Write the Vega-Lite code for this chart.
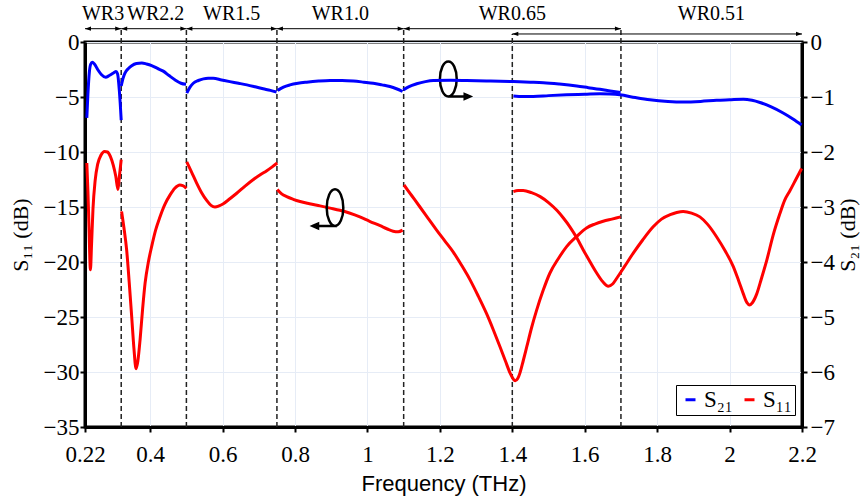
{
  "$schema": "https://vega.github.io/schema/vega-lite/v6.json",
  "width": 717,
  "height": 385,
  "autosize": {"type": "none"},
  "padding": {"left": 85, "top": 42, "right": 61, "bottom": 72},
  "background": "white",
  "config": {
    "view": {"stroke": "#000", "strokeWidth": 3},
    "axis": {
      "domainColor": "#000", "domainWidth": 3,
      "tickColor": "#000", "tickWidth": 2, "tickSize": 5,
      "labelColor": "#000", "titleColor": "#000",
      "labelFont": "Liberation Serif", "labelFontSize": 23,
      "titleFont": "Liberation Serif", "titleFontSize": 22, "titleFontWeight": "normal",
      "gridColor": "#e6ecf6", "gridWidth": 1,
      "labelFlush": false, "labelOverlap": false
    },
    "legend": {
      "orient": "none", "legendX": 591, "legendY": 343,
      "direction": "horizontal",
      "labelFont": "Liberation Serif", "labelFontSize": 23, "labelColor": "#000",
      "symbolType": "stroke", "symbolStrokeWidth": 3, "symbolSize": 100,
      "strokeColor": "#000", "fillColor": "white", "padding": 3,
      "labelOffset": 2, "columnPadding": 5
    }
  },
  "datasets": {
    "s11": [
      {"seg":"a","series":"S₁₁","f":0.225,"db":-11.0},{"seg":"a","series":"S₁₁","f":0.228,"db":-13.5},{"seg":"a","series":"S₁₁","f":0.231,"db":-16.8},{"seg":"a","series":"S₁₁","f":0.235,"db":-20.7},{"seg":"a","series":"S₁₁","f":0.238,"db":-18.5},{"seg":"a","series":"S₁₁","f":0.242,"db":-15.2},{"seg":"a","series":"S₁₁","f":0.248,"db":-12.6},{"seg":"a","series":"S₁₁","f":0.255,"db":-11.1},{"seg":"a","series":"S₁₁","f":0.264,"db":-10.3},{"seg":"a","series":"S₁₁","f":0.274,"db":-9.95},{"seg":"a","series":"S₁₁","f":0.282,"db":-10.0},{"seg":"a","series":"S₁₁","f":0.29,"db":-10.4},{"seg":"a","series":"S₁₁","f":0.298,"db":-11.2},{"seg":"a","series":"S₁₁","f":0.305,"db":-12.2},{"seg":"a","series":"S₁₁","f":0.311,"db":-13.4},{"seg":"a","series":"S₁₁","f":0.315,"db":-12.2},{"seg":"a","series":"S₁₁","f":0.32,"db":-10.7},
      {"seg":"b","series":"S₁₁","f":0.321,"db":-15.4},{"seg":"b","series":"S₁₁","f":0.328,"db":-17.0},{"seg":"b","series":"S₁₁","f":0.335,"db":-18.9},{"seg":"b","series":"S₁₁","f":0.342,"db":-21.8},{"seg":"b","series":"S₁₁","f":0.349,"db":-25.0},{"seg":"b","series":"S₁₁","f":0.355,"db":-27.8},{"seg":"b","series":"S₁₁","f":0.361,"db":-29.7},{"seg":"b","series":"S₁₁","f":0.366,"db":-29.0},{"seg":"b","series":"S₁₁","f":0.372,"db":-27.1},{"seg":"b","series":"S₁₁","f":0.379,"db":-24.3},{"seg":"b","series":"S₁₁","f":0.386,"db":-21.9},{"seg":"b","series":"S₁₁","f":0.395,"db":-20.0},{"seg":"b","series":"S₁₁","f":0.404,"db":-18.6},{"seg":"b","series":"S₁₁","f":0.415,"db":-17.1},{"seg":"b","series":"S₁₁","f":0.427,"db":-15.9},{"seg":"b","series":"S₁₁","f":0.44,"db":-14.8},{"seg":"b","series":"S₁₁","f":0.455,"db":-13.9},{"seg":"b","series":"S₁₁","f":0.468,"db":-13.3},{"seg":"b","series":"S₁₁","f":0.482,"db":-13.0},{"seg":"b","series":"S₁₁","f":0.49,"db":-13.05},{"seg":"b","series":"S₁₁","f":0.5,"db":-13.3},
      {"seg":"c","series":"S₁₁","f":0.501,"db":-10.9},{"seg":"c","series":"S₁₁","f":0.514,"db":-11.8},{"seg":"c","series":"S₁₁","f":0.528,"db":-12.8},{"seg":"c","series":"S₁₁","f":0.542,"db":-13.7},{"seg":"c","series":"S₁₁","f":0.556,"db":-14.4},{"seg":"c","series":"S₁₁","f":0.568,"db":-14.85},{"seg":"c","series":"S₁₁","f":0.579,"db":-15.0},{"seg":"c","series":"S₁₁","f":0.59,"db":-14.9},{"seg":"c","series":"S₁₁","f":0.602,"db":-14.7},{"seg":"c","series":"S₁₁","f":0.62,"db":-14.25},{"seg":"c","series":"S₁₁","f":0.639,"db":-13.75},{"seg":"c","series":"S₁₁","f":0.662,"db":-13.1},{"seg":"c","series":"S₁₁","f":0.685,"db":-12.5},{"seg":"c","series":"S₁₁","f":0.705,"db":-12.05},{"seg":"c","series":"S₁₁","f":0.722,"db":-11.7},{"seg":"c","series":"S₁₁","f":0.737,"db":-11.35},{"seg":"c","series":"S₁₁","f":0.751,"db":-11.0},
      {"seg":"d","series":"S₁₁","f":0.751,"db":-13.4},{"seg":"d","series":"S₁₁","f":0.763,"db":-13.8},{"seg":"d","series":"S₁₁","f":0.777,"db":-14.06},{"seg":"d","series":"S₁₁","f":0.795,"db":-14.3},{"seg":"d","series":"S₁₁","f":0.814,"db":-14.5},{"seg":"d","series":"S₁₁","f":0.84,"db":-14.7},{"seg":"d","series":"S₁₁","f":0.869,"db":-14.9},{"seg":"d","series":"S₁₁","f":0.897,"db":-15.1},{"seg":"d","series":"S₁₁","f":0.924,"db":-15.3},{"seg":"d","series":"S₁₁","f":0.95,"db":-15.55},{"seg":"d","series":"S₁₁","f":0.979,"db":-15.9},{"seg":"d","series":"S₁₁","f":1.006,"db":-16.3},{"seg":"d","series":"S₁₁","f":1.035,"db":-16.7},{"seg":"d","series":"S₁₁","f":1.055,"db":-17.0},{"seg":"d","series":"S₁₁","f":1.071,"db":-17.2},{"seg":"d","series":"S₁₁","f":1.085,"db":-17.25},{"seg":"d","series":"S₁₁","f":1.097,"db":-17.1},
      {"seg":"e","series":"S₁₁","f":1.101,"db":-13.0},{"seg":"e","series":"S₁₁","f":1.123,"db":-14.0},{"seg":"e","series":"S₁₁","f":1.145,"db":-15.0},{"seg":"e","series":"S₁₁","f":1.168,"db":-16.05},{"seg":"e","series":"S₁₁","f":1.191,"db":-17.1},{"seg":"e","series":"S₁₁","f":1.214,"db":-18.1},{"seg":"e","series":"S₁₁","f":1.237,"db":-19.1},{"seg":"e","series":"S₁₁","f":1.26,"db":-20.3},{"seg":"e","series":"S₁₁","f":1.283,"db":-21.6},{"seg":"e","series":"S₁₁","f":1.306,"db":-23.1},{"seg":"e","series":"S₁₁","f":1.329,"db":-24.7},{"seg":"e","series":"S₁₁","f":1.348,"db":-26.2},{"seg":"e","series":"S₁₁","f":1.366,"db":-27.7},{"seg":"e","series":"S₁₁","f":1.381,"db":-29.0},{"seg":"e","series":"S₁₁","f":1.394,"db":-30.1},{"seg":"e","series":"S₁₁","f":1.402,"db":-30.6},{"seg":"e","series":"S₁₁","f":1.408,"db":-30.8},{"seg":"e","series":"S₁₁","f":1.415,"db":-30.6},{"seg":"e","series":"S₁₁","f":1.421,"db":-30.1},{"seg":"e","series":"S₁₁","f":1.43,"db":-29.0},{"seg":"e","series":"S₁₁","f":1.44,"db":-27.7},{"seg":"e","series":"S₁₁","f":1.453,"db":-26.0},{"seg":"e","series":"S₁₁","f":1.467,"db":-24.4},{"seg":"e","series":"S₁₁","f":1.485,"db":-22.6},{"seg":"e","series":"S₁₁","f":1.504,"db":-21.0},{"seg":"e","series":"S₁₁","f":1.527,"db":-19.7},{"seg":"e","series":"S₁₁","f":1.55,"db":-18.6},{"seg":"e","series":"S₁₁","f":1.577,"db":-17.7},{"seg":"e","series":"S₁₁","f":1.605,"db":-16.9},{"seg":"e","series":"S₁₁","f":1.628,"db":-16.55},{"seg":"e","series":"S₁₁","f":1.651,"db":-16.3},{"seg":"e","series":"S₁₁","f":1.675,"db":-16.1},{"seg":"e","series":"S₁₁","f":1.699,"db":-15.9},
      {"seg":"f","series":"S₁₁","f":1.403,"db":-13.6},{"seg":"f","series":"S₁₁","f":1.416,"db":-13.5},{"seg":"f","series":"S₁₁","f":1.43,"db":-13.5},{"seg":"f","series":"S₁₁","f":1.453,"db":-13.7},{"seg":"f","series":"S₁₁","f":1.477,"db":-14.06},{"seg":"f","series":"S₁₁","f":1.5,"db":-14.6},{"seg":"f","series":"S₁₁","f":1.523,"db":-15.3},{"seg":"f","series":"S₁₁","f":1.541,"db":-16.0},{"seg":"f","series":"S₁₁","f":1.559,"db":-16.8},{"seg":"f","series":"S₁₁","f":1.578,"db":-17.8},{"seg":"f","series":"S₁₁","f":1.596,"db":-18.9},{"seg":"f","series":"S₁₁","f":1.615,"db":-20.0},{"seg":"f","series":"S₁₁","f":1.633,"db":-21.0},{"seg":"f","series":"S₁₁","f":1.65,"db":-21.8},{"seg":"f","series":"S₁₁","f":1.665,"db":-22.2},{"seg":"f","series":"S₁₁","f":1.677,"db":-22.0},{"seg":"f","series":"S₁₁","f":1.688,"db":-21.5},{"seg":"f","series":"S₁₁","f":1.71,"db":-20.4},{"seg":"f","series":"S₁₁","f":1.734,"db":-19.2},{"seg":"f","series":"S₁₁","f":1.76,"db":-18.0},{"seg":"f","series":"S₁₁","f":1.789,"db":-16.8},{"seg":"f","series":"S₁₁","f":1.812,"db":-16.1},{"seg":"f","series":"S₁₁","f":1.836,"db":-15.7},{"seg":"f","series":"S₁₁","f":1.854,"db":-15.5},{"seg":"f","series":"S₁₁","f":1.872,"db":-15.4},{"seg":"f","series":"S₁₁","f":1.895,"db":-15.55},{"seg":"f","series":"S₁₁","f":1.918,"db":-15.9},{"seg":"f","series":"S₁₁","f":1.94,"db":-16.6},{"seg":"f","series":"S₁₁","f":1.964,"db":-17.7},{"seg":"f","series":"S₁₁","f":1.988,"db":-19.0},{"seg":"f","series":"S₁₁","f":2.01,"db":-20.4},{"seg":"f","series":"S₁₁","f":2.025,"db":-21.7},{"seg":"f","series":"S₁₁","f":2.038,"db":-22.9},{"seg":"f","series":"S₁₁","f":2.048,"db":-23.7},{"seg":"f","series":"S₁₁","f":2.055,"db":-23.9},{"seg":"f","series":"S₁₁","f":2.063,"db":-23.7},{"seg":"f","series":"S₁₁","f":2.075,"db":-22.9},{"seg":"f","series":"S₁₁","f":2.088,"db":-21.5},{"seg":"f","series":"S₁₁","f":2.103,"db":-19.8},{"seg":"f","series":"S₁₁","f":2.12,"db":-17.6},{"seg":"f","series":"S₁₁","f":2.139,"db":-15.6},{"seg":"f","series":"S₁₁","f":2.152,"db":-14.4},{"seg":"f","series":"S₁₁","f":2.167,"db":-13.5},{"seg":"f","series":"S₁₁","f":2.183,"db":-12.5},{"seg":"f","series":"S₁₁","f":2.199,"db":-11.5}
    ],
    "s21": [
      {"seg":"a","series":"S₂₁","f":0.225,"db":-1.38},{"seg":"a","series":"S₂₁","f":0.228,"db":-0.95},{"seg":"a","series":"S₂₁","f":0.232,"db":-0.55},{"seg":"a","series":"S₂₁","f":0.236,"db":-0.4},{"seg":"a","series":"S₂₁","f":0.24,"db":-0.37},{"seg":"a","series":"S₂₁","f":0.246,"db":-0.4},{"seg":"a","series":"S₂₁","f":0.255,"db":-0.5},{"seg":"a","series":"S₂₁","f":0.265,"db":-0.59},{"seg":"a","series":"S₂₁","f":0.277,"db":-0.64},{"seg":"a","series":"S₂₁","f":0.287,"db":-0.61},{"seg":"a","series":"S₂₁","f":0.297,"db":-0.57},{"seg":"a","series":"S₂₁","f":0.305,"db":-0.535},{"seg":"a","series":"S₂₁","f":0.31,"db":-0.58},{"seg":"a","series":"S₂₁","f":0.315,"db":-0.9},{"seg":"a","series":"S₂₁","f":0.32,"db":-1.42},
      {"seg":"b","series":"S₂₁","f":0.32,"db":-0.8},{"seg":"b","series":"S₂₁","f":0.325,"db":-0.66},{"seg":"b","series":"S₂₁","f":0.33,"db":-0.57},{"seg":"b","series":"S₂₁","f":0.34,"db":-0.48},{"seg":"b","series":"S₂₁","f":0.349,"db":-0.43},{"seg":"b","series":"S₂₁","f":0.362,"db":-0.39},{"seg":"b","series":"S₂₁","f":0.377,"db":-0.38},{"seg":"b","series":"S₂₁","f":0.39,"db":-0.4},{"seg":"b","series":"S₂₁","f":0.404,"db":-0.43},{"seg":"b","series":"S₂₁","f":0.42,"db":-0.48},{"seg":"b","series":"S₂₁","f":0.436,"db":-0.53},{"seg":"b","series":"S₂₁","f":0.452,"db":-0.61},{"seg":"b","series":"S₂₁","f":0.469,"db":-0.69},{"seg":"b","series":"S₂₁","f":0.485,"db":-0.75},{"seg":"b","series":"S₂₁","f":0.499,"db":-0.77},
      {"seg":"c","series":"S₂₁","f":0.501,"db":-0.93},{"seg":"c","series":"S₂₁","f":0.51,"db":-0.82},{"seg":"c","series":"S₂₁","f":0.519,"db":-0.75},{"seg":"c","series":"S₂₁","f":0.533,"db":-0.7},{"seg":"c","series":"S₂₁","f":0.547,"db":-0.67},{"seg":"c","series":"S₂₁","f":0.56,"db":-0.66},{"seg":"c","series":"S₂₁","f":0.574,"db":-0.66},{"seg":"c","series":"S₂₁","f":0.597,"db":-0.69},{"seg":"c","series":"S₂₁","f":0.62,"db":-0.72},{"seg":"c","series":"S₂₁","f":0.644,"db":-0.75},{"seg":"c","series":"S₂₁","f":0.667,"db":-0.78},{"seg":"c","series":"S₂₁","f":0.69,"db":-0.815},{"seg":"c","series":"S₂₁","f":0.712,"db":-0.85},{"seg":"c","series":"S₂₁","f":0.732,"db":-0.88},{"seg":"c","series":"S₂₁","f":0.749,"db":-0.91},
      {"seg":"d","series":"S₂₁","f":0.752,"db":-0.88},{"seg":"d","series":"S₂₁","f":0.768,"db":-0.82},{"seg":"d","series":"S₂₁","f":0.786,"db":-0.78},{"seg":"d","series":"S₂₁","f":0.808,"db":-0.75},{"seg":"d","series":"S₂₁","f":0.832,"db":-0.73},{"seg":"d","series":"S₂₁","f":0.865,"db":-0.71},{"seg":"d","series":"S₂₁","f":0.897,"db":-0.7},{"seg":"d","series":"S₂₁","f":0.93,"db":-0.7},{"seg":"d","series":"S₂₁","f":0.961,"db":-0.71},{"seg":"d","series":"S₂₁","f":0.99,"db":-0.73},{"seg":"d","series":"S₂₁","f":1.016,"db":-0.75},{"seg":"d","series":"S₂₁","f":1.04,"db":-0.78},{"seg":"d","series":"S₂₁","f":1.062,"db":-0.81},{"seg":"d","series":"S₂₁","f":1.08,"db":-0.85},{"seg":"d","series":"S₂₁","f":1.097,"db":-0.9},
      {"seg":"e","series":"S₂₁","f":1.099,"db":-0.87},{"seg":"e","series":"S₂₁","f":1.115,"db":-0.81},{"seg":"e","series":"S₂₁","f":1.136,"db":-0.76},{"seg":"e","series":"S₂₁","f":1.16,"db":-0.72},{"seg":"e","series":"S₂₁","f":1.182,"db":-0.7},{"seg":"e","series":"S₂₁","f":1.23,"db":-0.695},{"seg":"e","series":"S₂₁","f":1.274,"db":-0.7},{"seg":"e","series":"S₂₁","f":1.34,"db":-0.71},{"seg":"e","series":"S₂₁","f":1.403,"db":-0.72},{"seg":"e","series":"S₂₁","f":1.45,"db":-0.73},{"seg":"e","series":"S₂₁","f":1.486,"db":-0.74},{"seg":"e","series":"S₂₁","f":1.53,"db":-0.765},{"seg":"e","series":"S₂₁","f":1.578,"db":-0.8},{"seg":"e","series":"S₂₁","f":1.61,"db":-0.83},{"seg":"e","series":"S₂₁","f":1.642,"db":-0.86},{"seg":"e","series":"S₂₁","f":1.67,"db":-0.89},{"seg":"e","series":"S₂₁","f":1.699,"db":-0.92},
      {"seg":"f","series":"S₂₁","f":1.403,"db":-0.98},{"seg":"f","series":"S₂₁","f":1.43,"db":-0.99},{"seg":"f","series":"S₂₁","f":1.458,"db":-0.99},{"seg":"f","series":"S₂₁","f":1.5,"db":-0.975},{"seg":"f","series":"S₂₁","f":1.55,"db":-0.96},{"seg":"f","series":"S₂₁","f":1.6,"db":-0.95},{"seg":"f","series":"S₂₁","f":1.642,"db":-0.94},{"seg":"f","series":"S₂₁","f":1.67,"db":-0.945},{"seg":"f","series":"S₂₁","f":1.697,"db":-0.96},{"seg":"f","series":"S₂₁","f":1.74,"db":-1.01},{"seg":"f","series":"S₂₁","f":1.78,"db":-1.05},{"seg":"f","series":"S₂₁","f":1.83,"db":-1.08},{"seg":"f","series":"S₂₁","f":1.872,"db":-1.09},{"seg":"f","series":"S₂₁","f":1.92,"db":-1.08},{"seg":"f","series":"S₂₁","f":1.964,"db":-1.06},{"seg":"f","series":"S₂₁","f":2.0,"db":-1.05},{"seg":"f","series":"S₂₁","f":2.038,"db":-1.04},{"seg":"f","series":"S₂₁","f":2.062,"db":-1.06},{"seg":"f","series":"S₂₁","f":2.084,"db":-1.1},{"seg":"f","series":"S₂₁","f":2.115,"db":-1.18},{"seg":"f","series":"S₂₁","f":2.148,"db":-1.29},{"seg":"f","series":"S₂₁","f":2.175,"db":-1.4},{"seg":"f","series":"S₂₁","f":2.199,"db":-1.51}
    ],
    "vlines": [
      {"f":0.32,"db":-35,"top":1.21},{"f":0.5,"db":-35,"top":1.21},{"f":0.75,"db":-35,"top":1.21},{"f":1.1,"db":-35,"top":1.21},{"f":1.4,"db":-35,"top":0.73},{"f":1.7,"db":-35,"top":1.21}
    ],
    "bands": [
      {"f":0.22,"f2":0.32,"db":1.21},{"f":0.32,"f2":0.5,"db":1.21},{"f":0.5,"f2":0.75,"db":1.21},{"f":0.75,"f2":1.1,"db":1.21},{"f":1.1,"f2":1.7,"db":1.21},{"f":1.4,"f2":2.2,"db":0.73}
    ],
    "arrowsL": [
      {"f":0.22,"db":1.21},{"f":0.32,"db":1.21},{"f":0.5,"db":1.21},{"f":0.75,"db":1.21},{"f":1.1,"db":1.21},{"f":1.4,"db":0.73}
    ],
    "arrowsR": [
      {"f":0.32,"db":1.21},{"f":0.5,"db":1.21},{"f":0.75,"db":1.21},{"f":1.1,"db":1.21},{"f":1.7,"db":1.21},{"f":2.2,"db":0.73}
    ],
    "labels": [
      {"f":0.27,"db":2.58,"label":"WR3"},{"f":0.415,"db":2.58,"label":"WR2.2"},{"f":0.625,"db":2.58,"label":"WR1.5"},{"f":0.925,"db":2.58,"label":"WR1.0"},{"f":1.4,"db":2.58,"label":"WR0.65"},{"f":1.95,"db":2.58,"label":"WR0.51"}
    ],
    "icon11": [{"f":0.9104,"db":-15.06}],
    "icon21": [{"f":1.2233,"db":-3.36}]
  },
  "layer": [
    {
      "layer": [
        {
          "data": {"name": "vlines"},
          "mark": {"type": "rule", "color": "#222", "strokeWidth": 1.5, "strokeDash": [5, 3]},
          "encoding": {
            "x": {"field": "f", "type": "quantitative", "scale": {"domain": [0.22, 2.2], "nice": false, "zero": false}},
            "y": {"field": "db", "type": "quantitative", "scale": {"domain": [-35, 0], "nice": false, "zero": false}},
            "y2": {"field": "top"}
          }
        },
        {
          "data": {"name": "s11"},
          "mark": {"type": "line", "strokeWidth": 3, "interpolate": "monotone"},
          "encoding": {
            "x": {"field": "f", "type": "quantitative", "title": "Frequency (THz)",
              "scale": {"domain": [0.22, 2.2], "nice": false, "zero": false},
              "axis": {"values": [0.22, 0.4, 0.6, 0.8, 1, 1.2, 1.4, 1.6, 1.8, 2, 2.2], "format": ".2~f", "grid": true,
                "labelPadding": 11, "titleFont": "Liberation Sans", "titleFontSize": 22, "titlePadding": 7}},
            "y": {"field": "db", "type": "quantitative", "title": "S₁₁ (dB)",
              "scale": {"domain": [-35, 0], "nice": false, "zero": false},
              "axis": {"orient": "left", "values": [-35, -30, -25, -20, -15, -10, -5, 0], "grid": true, "labelPadding": 1, "titlePadding": 11}},
            "detail": {"field": "seg"},
            "color": {"field": "series", "type": "nominal", "title": null,
              "scale": {"domain": ["S₂₁", "S₁₁"], "range": ["#0000ff", "#ff0000"]}}
          }
        },
        {
          "data": {"name": "bands"},
          "mark": {"type": "rule", "color": "#000", "strokeWidth": 1},
          "encoding": {
            "x": {"field": "f", "type": "quantitative"},
            "x2": {"field": "f2"},
            "y": {"field": "db", "type": "quantitative"}
          }
        },
        {
          "data": {"name": "arrowsR"},
          "mark": {"type": "point", "shape": "M0,0 L-2,-0.7 L-2,0.7 Z", "filled": true, "color": "#000", "size": 36, "opacity": 1},
          "encoding": {
            "x": {"field": "f", "type": "quantitative"},
            "y": {"field": "db", "type": "quantitative"}
          }
        },
        {
          "data": {"name": "arrowsL"},
          "mark": {"type": "point", "shape": "M0,0 L2,-0.7 L2,0.7 Z", "filled": true, "color": "#000", "size": 36, "opacity": 1},
          "encoding": {
            "x": {"field": "f", "type": "quantitative"},
            "y": {"field": "db", "type": "quantitative"}
          }
        },
        {
          "data": {"name": "labels"},
          "mark": {"type": "text", "font": "Liberation Serif", "fontSize": 20, "color": "#000", "baseline": "middle", "align": "center"},
          "encoding": {
            "x": {"field": "f", "type": "quantitative"},
            "y": {"field": "db", "type": "quantitative"},
            "text": {"field": "label"}
          }
        },
        {
          "data": {"name": "icon11"},
          "mark": {"type": "point", "shape": "M0,-0.915 C0.229,-0.915 0.415,-0.505 0.415,0 C0.415,0.505 0.229,0.915 0,0.915 C-0.229,0.915 -0.415,0.505 -0.415,0 C-0.415,-0.505 -0.229,-0.915 0,-0.915 Z M0.1,0.915 L-1.115,0.915 M-1.115,0.915 L-0.85,0.8 L-0.85,1.03 Z", "filled": false, "color": "#000", "strokeWidth": 2.5, "size": 1600, "opacity": 1},
          "encoding": {
            "x": {"field": "f", "type": "quantitative"},
            "y": {"field": "db", "type": "quantitative"}
          }
        },
        {
          "data": {"name": "icon21"},
          "mark": {"type": "point", "shape": "M0,-0.875 C0.232,-0.875 0.42,-0.483 0.42,0 C0.42,0.483 0.232,0.875 0,0.875 C-0.232,0.875 -0.42,0.483 -0.42,0 C-0.42,-0.483 -0.232,-0.875 0,-0.875 Z M0,0.875 L1.085,0.875 M1.085,0.875 L0.82,0.76 L0.82,0.99 Z", "filled": false, "color": "#000", "strokeWidth": 2.5, "size": 1600, "opacity": 1},
          "encoding": {
            "x": {"field": "f", "type": "quantitative"},
            "y": {"field": "db", "type": "quantitative"}
          }
        }
      ]
    },
    {
      "data": {"name": "s21"},
      "mark": {"type": "line", "strokeWidth": 3, "interpolate": "monotone"},
      "encoding": {
        "x": {"field": "f", "type": "quantitative", "scale": {"domain": [0.22, 2.2], "nice": false, "zero": false}},
        "y": {"field": "db", "type": "quantitative", "title": "S₂₁ (dB)",
          "scale": {"domain": [-7, 0], "nice": false, "zero": false},
          "axis": {"orient": "right", "values": [-7, -6, -5, -4, -3, -2, -1, 0], "grid": false, "labelPadding": 3, "titleAngle": -90, "titleBaseline": "top", "titlePadding": 3}},
        "detail": {"field": "seg"},
        "color": {"field": "series", "type": "nominal", "title": null,
          "scale": {"domain": ["S₂₁", "S₁₁"], "range": ["#0000ff", "#ff0000"]}}
      }
    }
  ],
  "resolve": {"scale": {"y": "independent"}}
}
